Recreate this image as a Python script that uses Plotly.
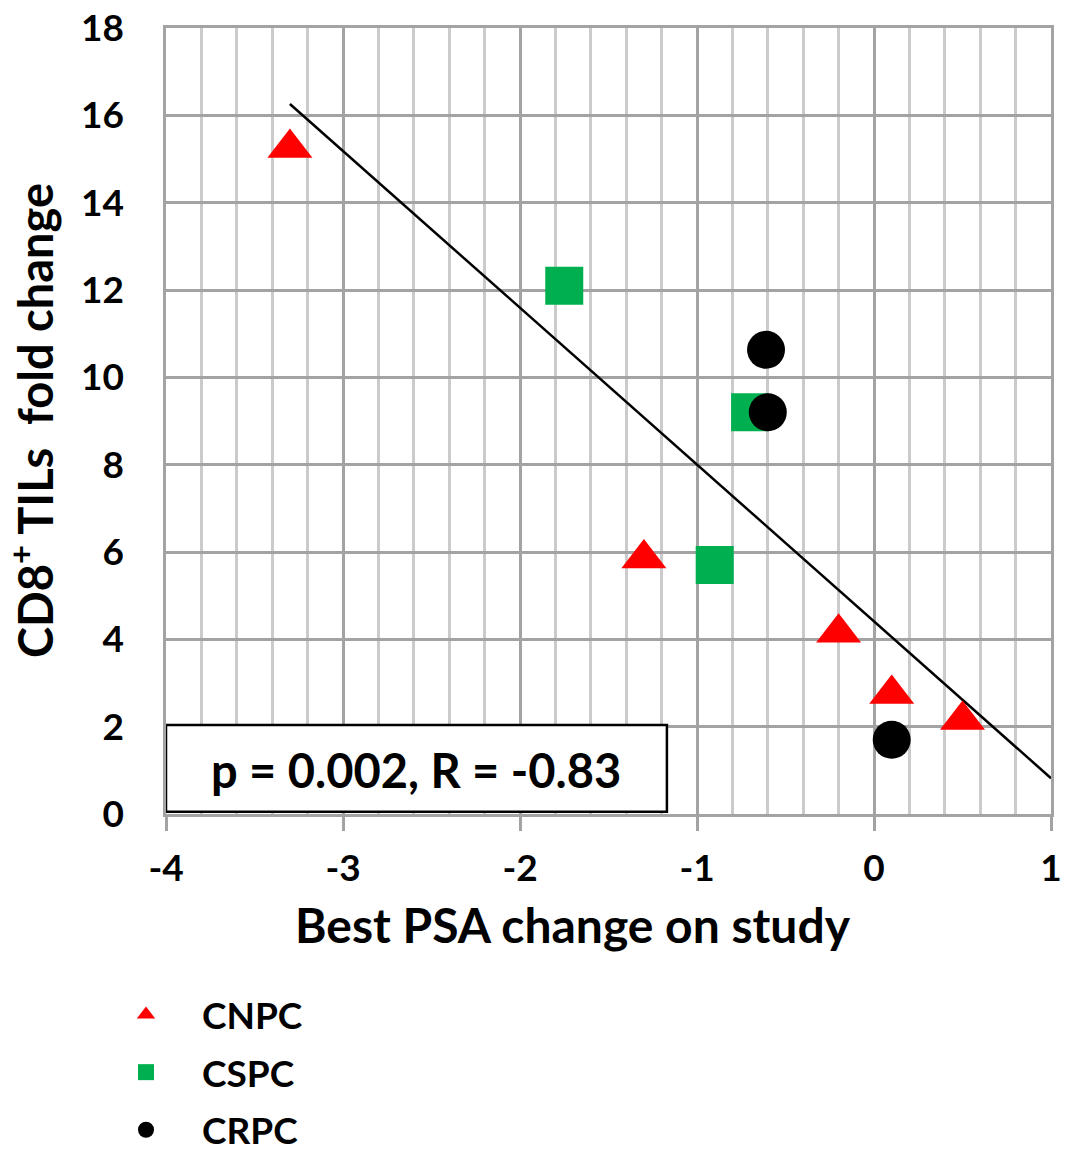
import plotly.graph_objects as go

# Data
cnpc_x = [-3.30, -1.30, -0.20, 0.10, 0.50]
cnpc_y = [15.25, 5.85, 4.15, 2.75, 2.15]
cspc_x = [-1.75, -0.70, -0.90]
cspc_y = [12.10, 9.20, 5.70]
crpc_x = [-0.61, -0.60, 0.10]
crpc_y = [10.63, 9.20, 1.70]
trend_x = [-3.30, 1.00]
trend_y = [16.26, 0.82]
x_tickvals = [-4, -3, -2, -1, 0, 1]
x_ticktext = ["-4", "-3", "-2", "-1", "0", "1"]
stat_text = "p = 0.002, R = -0.83"

FONT = "Lato"
NB = "\u00a0" * 4
fig = go.Figure()

fig.add_trace(go.Scatter(x=trend_x, y=trend_y, mode="lines",
                         line=dict(color="black", width=2.5), showlegend=False, hoverinfo="skip"))
fig.add_trace(go.Scatter(x=cnpc_x, y=cnpc_y, mode="markers", name=NB + "CNPC",
                         legendgroup="a",
                         marker=dict(symbol="triangle-up", size=39, color="#ff0000")))
fig.add_trace(go.Scatter(x=cspc_x, y=cspc_y, mode="markers", name=NB + "CSPC",
                         legendgroup="b",
                         marker=dict(symbol="square", size=38, color="#00b050")))
fig.add_trace(go.Scatter(x=crpc_x, y=crpc_y, mode="markers", name=NB + "CRPC",
                         legendgroup="c",
                         marker=dict(symbol="circle", size=38, color="black")))

grid_major = "#a3a3a3"
grid_minor = "#cbcbcb"

fig.update_xaxes(range=[-4, 1], tickvals=x_tickvals, ticktext=x_ticktext,
                 showgrid=True, gridcolor=grid_major, gridwidth=2.5, automargin=False,
                 zeroline=False, showline=True, linecolor=grid_major, linewidth=2.5, mirror=True,
                 ticks="outside", ticklen=14, tickwidth=2.5, tickcolor=grid_major,
                 ticklabelstandoff=6,
                 tickfont=dict(family=FONT, size=37, color="black", weight="bold"),
                 minor=dict(dtick=0.2, tick0=0, showgrid=True, gridcolor=grid_minor, gridwidth=2.5, ticks=""))
fig.update_yaxes(range=[0, 18], dtick=2, tick0=0, showgrid=True, gridcolor=grid_major, gridwidth=2.5,
                 automargin=False,
                 zeroline=False, showline=True, linecolor=grid_major, linewidth=2.5, mirror=True,
                 ticks="", ticklabelstandoff=32,
                 tickfont=dict(family=FONT, size=37, color="black", weight="bold"))

# Stats box
fig.add_shape(type="rect", xref="x", yref="y", x0=-4, x1=-1.17, y0=0.05, y1=2.04,
              line=dict(color="black", width=2.5), fillcolor="white", layer="above")
fig.add_annotation(x=-2.585, y=1.0, xref="x", yref="y", text="<b>" + stat_text + "</b>",
                   showarrow=False, font=dict(family=FONT, size=47, color="black"))

# Axis titles
fig.add_annotation(x=(573 - 166) / 885, y=-(924 - 814) / 786, xref="paper", yref="paper",
                   text="<b>Best PSA change on study</b>", showarrow=False,
                   font=dict(family=FONT, size=48, color="black"), yanchor="middle")
fig.add_annotation(x=-(166 - 32) / 885, y=(814 - 421) / 786, xref="paper", yref="paper",
                   text="<b>CD8<sup>+</sup> TILs\u00a0 fold change</b>", textangle=-90, showarrow=False,
                   font=dict(family=FONT, size=47, color="black"), xanchor="center", yanchor="middle")

fig.update_layout(
    width=1071, height=1154,
    margin=dict(l=166, r=20, t=28, b=340),
    paper_bgcolor="white", plot_bgcolor="white",
    showlegend=True,
    legend=dict(x=-(166 - 126) / 885, xref="paper", y=1 - 984 / 1154, yref="container",
                xanchor="left", yanchor="top",
                font=dict(family=FONT, size=37, color="black", weight="bold"),
                tracegroupgap=6.5, bgcolor="rgba(0,0,0,0)"),
)

fig.write_html("out.html", config={"displayModeBar": False},
               post_script="document.body.style.margin='0px';document.body.style.overflow='hidden';")
